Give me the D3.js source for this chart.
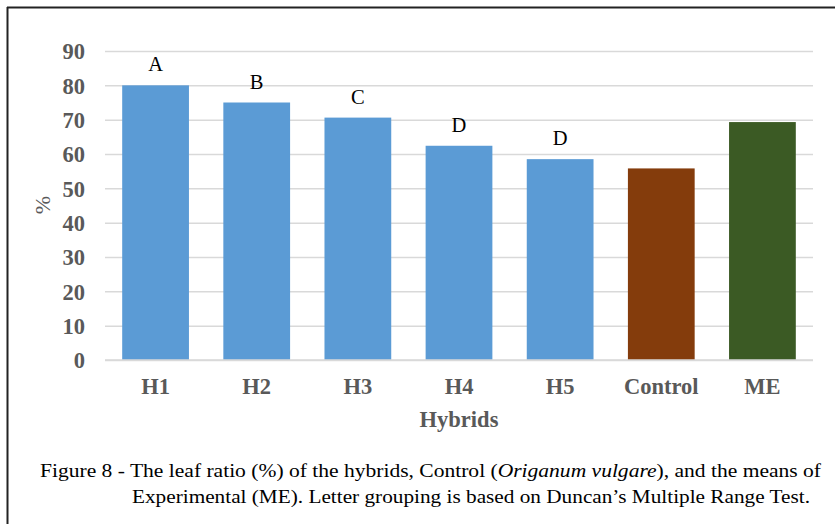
<!DOCTYPE html>
<html>
<head>
<meta charset="utf-8">
<script src="https://cdn.jsdelivr.net/npm/d3@7"></script>
<style>
  html, body { margin: 0; padding: 0; background: #fff; }
  svg { display: block; }
</style>
</head>
<body>
<svg id="chart" width="835" height="525"></svg>
<script>
const categories = ["H1", "H2", "H3", "H4", "H5", "Control", "ME"];
const values = [80, 75, 70.6, 62.4, 58.5, 55.8, 69.3];
const letters = ["A", "B", "C", "D", "D", "", ""];
const barColors = ["#5B9BD5", "#5B9BD5", "#5B9BD5", "#5B9BD5", "#5B9BD5", "#843C0C", "#3B5A24"];
const yTicks = [0, 10, 20, 30, 40, 50, 60, 70, 80, 90];
const xTitle = "Hybrids";
const yTitle = "%";

const svg = d3.select("#chart");
const serif = "'Liberation Serif', 'Times New Roman', Times, serif";

// frame (left and top lines)
svg.append("line").attr("x1", 7.5).attr("x2", 7.5).attr("y1", 7).attr("y2", 524)
  .attr("stroke", "#222").attr("stroke-width", 2);
svg.append("line").attr("x1", 7).attr("x2", 835).attr("y1", 7.5).attr("y2", 7.5)
  .attr("stroke", "#222").attr("stroke-width", 2);

const x = d3.scaleBand().domain(categories).range([105, 813]).paddingInner(0.34).paddingOuter(0.17);
const y = d3.scaleLinear().domain([0, 90]).range([360, 51]);

// gridlines
const yAxis = d3.axisLeft(y).tickValues(yTicks).tickSize(-(813 - 105)).tickPadding(20);
const gy = svg.append("g").attr("transform", "translate(105,0)").call(yAxis);
gy.select(".domain").remove();
gy.selectAll(".tick line").attr("stroke", "#D9D9D9").attr("stroke-width", 1.5);
gy.selectAll(".tick text")
  .attr("font-family", serif).attr("font-weight", "bold").attr("font-size", 22.5)
  .attr("fill", "#595959").attr("dy", "0.35em");

// bars
svg.append("g").selectAll("rect").data(categories).join("rect")
  .attr("x", d => x(d))
  .attr("width", x.bandwidth())
  .attr("y", (d, i) => y(values[i]))
  .attr("height", (d, i) => y(0) - y(values[i]))
  .attr("fill", (d, i) => barColors[i]);

// axis baseline
svg.append("line").attr("x1", 105).attr("x2", 813).attr("y1", y(0)).attr("y2", y(0))
  .attr("stroke", "#D9D9D9").attr("stroke-width", 1.5);

// letters
svg.append("g").selectAll("text").data(categories).join("text")
  .attr("x", d => x(d) + x.bandwidth() / 2)
  .attr("y", (d, i) => y(values[i]) - 14)
  .attr("text-anchor", "middle")
  .attr("font-family", serif).attr("font-size", 20.5).attr("fill", "#000")
  .text((d, i) => letters[i]);

// x axis labels
const xAxis = d3.axisBottom(x).tickSize(0).tickPadding(0);
const gx = svg.append("g").attr("transform", "translate(0,394)").call(xAxis);
gx.select(".domain").remove();
gx.selectAll(".tick text")
  .attr("font-family", serif).attr("font-weight", "bold").attr("font-size", 22.5)
  .attr("fill", "#595959").attr("dy", 0).attr("y", 0);

// axis titles
svg.append("text").attr("x", 459).attr("y", 427).attr("text-anchor", "middle")
  .attr("font-family", serif).attr("font-weight", "bold").attr("font-size", 22.5)
  .attr("fill", "#595959").text(xTitle);
svg.append("text").attr("transform", "translate(50,205) rotate(-90)").attr("text-anchor", "middle")
  .attr("font-family", serif).attr("font-size", 22)
  .attr("fill", "#595959").text(yTitle);

// caption
const cap1 = svg.append("text").attr("x", 40).attr("y", 476.5)
  .attr("font-family", serif).attr("font-size", 19).attr("fill", "#000")
  .attr("textLength", 781).attr("lengthAdjust", "spacingAndGlyphs");
cap1.append("tspan").text("Figure 8 - The leaf ratio (%) of the hybrids, Control (");
cap1.append("tspan").attr("font-style", "italic").text("Origanum vulgare");
cap1.append("tspan").text("), and the means of");
svg.append("text").attr("x", 132).attr("y", 502.5)
  .attr("font-family", serif).attr("font-size", 19).attr("fill", "#000")
  .attr("textLength", 678).attr("lengthAdjust", "spacingAndGlyphs")
  .text("Experimental (ME). Letter grouping is based on Duncan\u2019s Multiple Range Test.");
</script>
</body>
</html>
